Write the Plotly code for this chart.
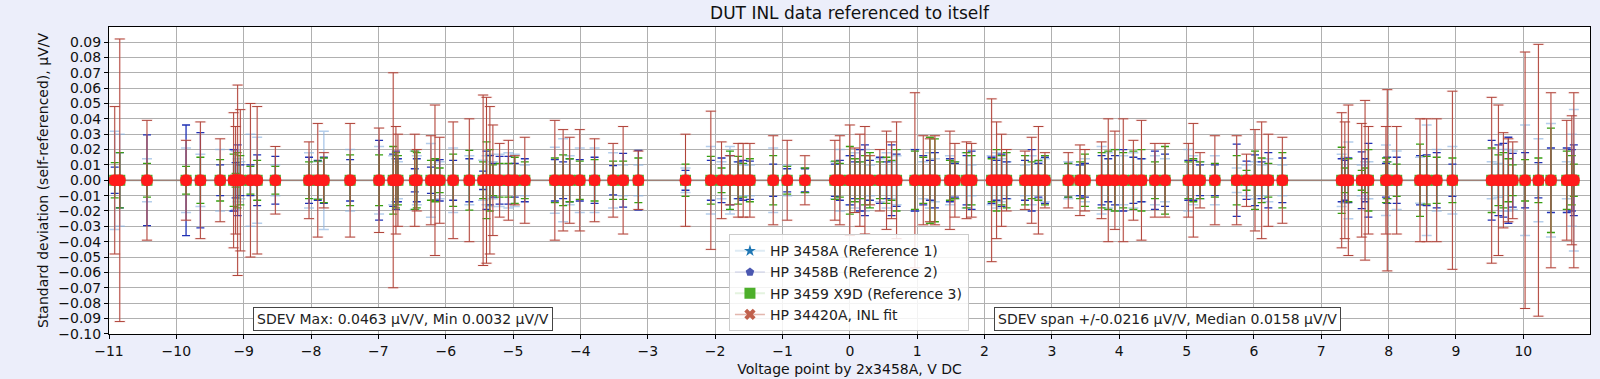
import plotly.graph_objects as go

# Voltage points (V DC)
x_points = [
    -10.915, -10.84, -10.436, -9.856, -9.643, -9.35, -9.15, -9.12, -9.09, -9.05,
    -8.90, -8.80, -8.53, -8.03, -7.90, -7.81, -7.42, -6.99, -6.78, -6.74,
    -6.71, -6.46, -6.43, -6.22, -6.16, -6.09, -5.89, -5.65,
    -5.445, -5.395, -5.345, -5.30, -5.20, -5.07, -4.975, -4.826, -4.38, -4.257,
    -4.16, -4.01, -3.79, -3.515, -3.366, -3.14, -2.44, -2.064, -1.905, -1.78,
    -1.658, -1.584, -1.484, -1.138, -0.93, -0.667, -0.222, -0.148,
    0.0, 0.075, 0.149, 0.224, 0.298, 0.446, 0.545, 0.62, 0.694, 0.966,
    1.09, 1.189, 1.263, 1.486, 1.56, 1.733, 1.808, 2.105, 2.179, 2.253,
    2.328, 2.60, 2.70, 2.80, 2.897, 3.243, 3.417, 3.491, 3.738, 3.837,
    3.936, 4.06, 4.21, 4.33, 4.53, 4.68, 5.026, 5.10, 5.20, 5.42,
    5.744, 5.89, 6.016, 6.115, 6.214, 6.422, 7.303, 7.35, 7.402, 7.60,
    7.65, 7.70, 7.96, 7.98, 8.12, 8.466, 8.565, 8.714, 8.947, 9.53,
    9.63, 9.704, 9.778, 9.843, 10.026, 10.224, 10.41, 10.645, 10.72, 10.75,
]

# Standard deviations, uV/V
sdev_3458a = [
    0.032, 0.030, 0.014, 0.021, 0.017, 0.020, 0.020, 0.019, 0.014, 0.012,
    0.030, 0.028, 0.010, 0.018, 0.012, 0.032, 0.020, 0.022, 0.016, 0.014,
    0.012, 0.019, 0.016, 0.024, 0.013, 0.012, 0.021, 0.016,
    0.013, 0.016, 0.017, 0.012, 0.017, 0.018, 0.017, 0.010, 0.0215, 0.027,
    0.016, 0.021, 0.021, 0.018, 0.010, 0.010, 0.008, 0.022, 0.012, 0.022,
    0.012, 0.010, 0.010, 0.021, 0.010, 0.008, 0.012, 0.020,
    0.016, 0.018, 0.012, 0.020, 0.010, 0.014, 0.018, 0.012, 0.016, 0.020,
    0.012, 0.018, 0.014, 0.016, 0.012, 0.018, 0.010, 0.016, 0.018, 0.014,
    0.012, 0.010, 0.016, 0.012, 0.014, 0.012, 0.010, 0.014, 0.022, 0.018,
    0.020, 0.016, 0.018, 0.014, 0.016, 0.014, 0.020, 0.016, 0.012, 0.016,
    0.008, 0.010, 0.012, 0.010, 0.014, 0.010, 0.017, 0.015, 0.025, 0.010,
    0.012, 0.012, 0.023, 0.012, 0.019, 0.015, 0.036, 0.020, 0.022, 0.012,
    0.011, 0.020, 0.020, 0.019, 0.036, 0.027, 0.037, 0.012, 0.030, 0.046,
]
sdev_3458b = [
    0.0085, 0.018, 0.0295, 0.036, 0.031, 0.010, 0.020, 0.0115, 0.023, 0.010,
    0.010, 0.0165, 0.0155, 0.015, 0.013, 0.015, 0.0135, 0.026, 0.017, 0.019,
    0.014, 0.0075, 0.014, 0.0085, 0.013, 0.0135, 0.013, 0.014,
    0.006, 0.019, 0.016, 0.011, 0.0155, 0.0155, 0.011, 0.014, 0.0135, 0.012,
    0.014, 0.0135, 0.015, 0.0095, 0.0175, 0.0195, 0.0065, 0.013, 0.0145, 0.016,
    0.012, 0.013, 0.0125, 0.0105, 0.0075, 0.0075, 0.0105, 0.013,
    0.016, 0.012, 0.020, 0.023, 0.013, 0.015, 0.012, 0.023, 0.017, 0.020,
    0.016, 0.013, 0.018, 0.014, 0.011, 0.016, 0.019, 0.015, 0.013, 0.017,
    0.012, 0.013, 0.020, 0.011, 0.015, 0.011, 0.010, 0.011, 0.016, 0.014,
    0.016, 0.020, 0.015, 0.014, 0.019, 0.017, 0.013, 0.013, 0.010, 0.010,
    0.0235, 0.0125, 0.0165, 0.012, 0.018, 0.0145, 0.014, 0.013, 0.0145, 0.0185,
    0.014, 0.024, 0.011, 0.015, 0.015, 0.016, 0.0165, 0.018, 0.0105, 0.026,
    0.023, 0.024, 0.028, 0.0175, 0.018, 0.0115, 0.021, 0.021, 0.020, 0.023,
]
sdev_3459 = [
    0.0115, 0.018, 0.011, 0.009, 0.015, 0.0135, 0.017, 0.0045, 0.018, 0.016,
    0.009, 0.013, 0.009, 0.012, 0.0125, 0.0145, 0.0165, 0.0165, 0.022, 0.018,
    0.016, 0.019, 0.018, 0.013, 0.014, 0.008, 0.017, 0.0195,
    0.012, 0.025, 0.020, 0.010, 0.011, 0.011, 0.015, 0.012, 0.0145, 0.0165,
    0.014, 0.0125, 0.0135, 0.0125, 0.0125, 0.0145, 0.0105, 0.0155, 0.008, 0.019,
    0.0155, 0.011, 0.014, 0.016, 0.009, 0.008, 0.0125, 0.011,
    0.022, 0.014, 0.012, 0.016, 0.018, 0.012, 0.015, 0.013, 0.020, 0.019,
    0.015, 0.028, 0.027, 0.013, 0.012, 0.018, 0.016, 0.014, 0.020, 0.016,
    0.018, 0.016, 0.012, 0.013, 0.016, 0.011, 0.012, 0.017, 0.018, 0.019,
    0.020, 0.018, 0.019, 0.020, 0.012, 0.022, 0.012, 0.014, 0.012, 0.011,
    0.016, 0.0065, 0.019, 0.0145, 0.011, 0.018, 0.0215, 0.008, 0.014, 0.0065,
    0.008, 0.020, 0.0145, 0.012, 0.0105, 0.0235, 0.0155, 0.015, 0.0145, 0.021,
    0.0165, 0.018, 0.014, 0.010, 0.0135, 0.0145, 0.034, 0.019, 0.016, 0.0105,
]
sdev_34420a = [
    0.048, 0.092, 0.039, 0.026, 0.038, 0.027, 0.044, 0.035, 0.062, 0.046,
    0.050, 0.048, 0.022, 0.025, 0.037, 0.018, 0.037, 0.034, 0.070, 0.035,
    0.030, 0.030, 0.020, 0.029, 0.049, 0.028, 0.038, 0.040,
    0.0555, 0.054, 0.048, 0.036, 0.024, 0.026, 0.016, 0.028, 0.039, 0.033,
    0.028, 0.033, 0.027, 0.024, 0.035, 0.019, 0.030, 0.045, 0.025, 0.016,
    0.024, 0.024, 0.024, 0.029, 0.026, 0.016, 0.026, 0.029,
    0.036, 0.021, 0.030, 0.035, 0.016, 0.020, 0.032, 0.025, 0.038, 0.057,
    0.029, 0.027, 0.029, 0.032, 0.024, 0.025, 0.024, 0.053, 0.038, 0.030,
    0.020, 0.019, 0.028, 0.035, 0.018, 0.018, 0.023, 0.020, 0.025, 0.040,
    0.032, 0.040, 0.026, 0.039, 0.024, 0.024, 0.024, 0.037, 0.018, 0.029,
    0.029, 0.017, 0.033, 0.038, 0.030, 0.028, 0.044, 0.038, 0.049, 0.037,
    0.052, 0.035, 0.035, 0.059, 0.035, 0.040, 0.040, 0.040, 0.058, 0.054,
    0.049, 0.031, 0.027, 0.025, 0.0835, 0.0885, 0.057, 0.039, 0.042, 0.057,
]

n = len(x_points)
assert all(len(s) == n for s in (sdev_3458a, sdev_3458b, sdev_3459, sdev_34420a))
zeros = [0.0] * n

x_ticks = list(range(-11, 11))
y_ticks = [round(-0.10 + 0.01 * i, 2) for i in range(20)]

FONT = "DejaVu Sans"
fig = go.Figure()

fig.add_trace(go.Scatter(
    x=x_points, y=zeros, mode="lines+markers", name="HP 3458A (Reference 1)",
    line=dict(color="rgba(31,119,180,0.15)", width=2),
    marker=dict(symbol="star", color="#1f77b4", size=9),
    error_y=dict(type="data", array=sdev_3458a, color="rgba(140,180,225,0.65)", thickness=1.5, width=5),
))
fig.add_trace(go.Scatter(
    x=x_points, y=zeros, mode="lines+markers", name="HP 3458B (Reference 2)",
    line=dict(color="rgba(74,87,176,0.15)", width=2),
    marker=dict(symbol="pentagon", color="#4a57b0", size=9),
    error_y=dict(type="data", array=sdev_3458b, color="#1f30b5", thickness=1.3, width=4),
))
fig.add_trace(go.Scatter(
    x=x_points, y=zeros, mode="lines+markers", name="HP 3459 X9D (Reference 3)",
    line=dict(color="rgba(76,175,42,0.15)", width=2),
    marker=dict(symbol="square", color="#4caf2a", size=11),
    error_y=dict(type="data", array=sdev_3459, color="#35a010", thickness=1.3, width=4),
))
fig.add_trace(go.Scatter(
    x=x_points, y=zeros, mode="markers", showlegend=False, hoverinfo="skip",
    marker=dict(size=1, color="rgba(0,0,0,0)"),
    error_y=dict(type="data", array=sdev_34420a, color="rgba(235,175,165,0.22)", thickness=2, width=6),
))
fig.add_trace(go.Scatter(
    x=x_points, y=zeros, mode="lines+markers", name="HP 34420A, INL fit",
    line=dict(color="rgba(192,96,76,0.45)", width=1.5),
    marker=dict(symbol="x", color="#c0604c", size=10),
    error_y=dict(type="data", array=sdev_34420a, color="#b0443a", thickness=1, width=5),
))
fig.add_trace(go.Scatter(
    x=x_points, y=zeros, mode="markers", showlegend=False, hoverinfo="skip",
    marker=dict(symbol="circle", color="#ff1a1a", size=12),
))

fig.update_layout(
    width=1600, height=379,
    margin=dict(l=109, r=10, t=27, b=45, autoexpand=False),
    paper_bgcolor="#eceefa", plot_bgcolor="white",
    font=dict(family=FONT, size=14, color="#222222"),
    title=dict(text="DUT INL data referenced to itself", x=0.5, xref="paper",
               y=1 - 13 / 379, yanchor="middle", font=dict(size=17, color="#111111")),
    showlegend=True,
    legend=dict(x=0.4186, y=0.325, xanchor="left", yanchor="top",
                bgcolor="rgba(255,255,255,0.85)", bordercolor="#cccccc", borderwidth=1,
                font=dict(size=14, color="#222222")),
    xaxis=dict(range=[-11, 10.99], tickvals=x_ticks, showgrid=True, gridcolor="#b0b0b0",
               gridwidth=1, showline=True, linecolor="black", mirror=True, ticks="outside",
               ticklen=4, tickcolor="black", zeroline=False, automargin=False,
               tickfont=dict(size=14, color="#111111"),
               title=dict(text="Voltage point by 2x3458A, V DC", standoff=6,
                          font=dict(size=14, color="#111111"))),
    yaxis=dict(range=[-0.1001, 0.0998], tickvals=y_ticks, tickformat=".2f", showgrid=True,
               gridcolor="#b0b0b0", gridwidth=1, showline=True, linecolor="black", mirror=True,
               ticks="outside", ticklen=4, tickcolor="black", zeroline=False, automargin=False,
               tickfont=dict(size=14, color="#111111"),
               title=dict(text="Standard deviation (self-referenced), µV/V", standoff=6,
                          font=dict(size=14, color="#111111"))),
    annotations=[
        dict(text="SDEV Max: 0.0463 µV/V, Min 0.0032 µV/V", xref="paper", yref="paper",
             x=0.1985, y=0.0495, xanchor="center", yanchor="middle", showarrow=False,
             bgcolor="white", bordercolor="#444444", borderwidth=1, borderpad=3,
             font=dict(size=14, color="#222222")),
        dict(text="SDEV span +/-0.0216 µV/V, Median 0.0158 µV/V", xref="paper", yref="paper",
             x=0.7149, y=0.0495, xanchor="center", yanchor="middle", showarrow=False,
             bgcolor="white", bordercolor="#444444", borderwidth=1, borderpad=3,
             font=dict(size=14, color="#222222")),
    ],
)

fig.write_html("out.html", config={"displayModeBar": False},
               post_script="document.body.style.margin='0';document.body.style.padding='0';")
